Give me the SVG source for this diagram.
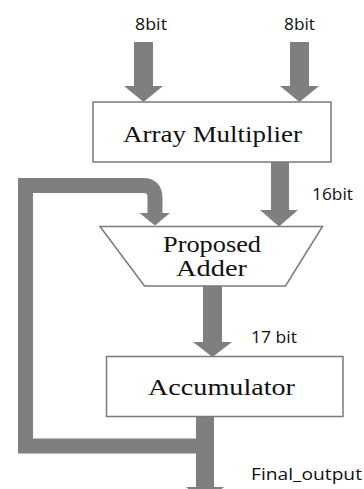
<svg xmlns="http://www.w3.org/2000/svg" width="364" height="489" viewBox="0 0 364 489">
<style>
.box{fill:#ffffff;stroke:#7a7a7a;stroke-width:1.5}
.arr{fill:#7f7f7f}
.lbl{font-family:"Open Sans","DejaVu Sans",sans-serif;font-size:16px;fill:#111}
.ttl{font-family:"Liberation Serif","Times New Roman",serif;font-size:23.5px;fill:#111}
</style>
<rect width="364" height="489" fill="#ffffff"/>
<g id="connectors">
  <path id="in-a" class="arr" d="M134,42 H153 V86 H163 L143.5,102 L124,86 H134 Z"/>
  <path id="in-b" class="arr" d="M290,42 H309 V86 H319 L299.5,102 L280,86 H290 Z"/>
  <path id="mul-add" class="arr" d="M271,162 H289 V210 H298 L279,226.5 L260,210 H271 Z"/>
  <path id="add-acc" class="arr" d="M203,286 H222 V342 H232 L212.5,357 L193,342 H203 Z"/>
  <path id="out" class="arr" d="M196,416 H214 V487 H224 L205,503 L186,487 H196 Z"/>
  <path id="feedback" d="M196,446 H25.5 V185.5 H143 Q155,185.5 155,197.5 V214" fill="none" stroke="#7f7f7f" stroke-width="15"/>
  <path id="feedback-head" class="arr" d="M139.5,213 H170 L155,225.5 Z"/>
</g>
<g id="labels">
  <text class="lbl" x="135" y="29.5" textLength="32" lengthAdjust="spacingAndGlyphs">8bit</text>
  <text class="lbl" x="284" y="29.5" textLength="31" lengthAdjust="spacingAndGlyphs">8bit</text>
  <text class="lbl" x="312" y="199.5" textLength="41" lengthAdjust="spacingAndGlyphs">16bit</text>
  <text class="lbl" x="251" y="343" textLength="46" lengthAdjust="spacingAndGlyphs">17 bit</text>
  <text class="lbl" x="251" y="480" textLength="111" lengthAdjust="spacingAndGlyphs">Final_output</text>
</g>
<g id="array-multiplier">
  <rect class="box" x="93" y="102" width="238" height="60"/>
  <text class="ttl" x="123" y="141.5" textLength="179" lengthAdjust="spacingAndGlyphs">Array Multiplier</text>
</g>
<g id="proposed-adder">
  <path class="box" d="M100,226.5 H322.5 L285.5,286 H144.5 Z"/>
  <text class="ttl" x="163" y="252" textLength="98" lengthAdjust="spacingAndGlyphs">Proposed</text>
  <text class="ttl" x="176" y="275.5" textLength="71" lengthAdjust="spacingAndGlyphs">Adder</text>
</g>
<g id="accumulator">
  <rect class="box" x="106.5" y="356.5" width="236.5" height="60"/>
  <text class="ttl" x="148" y="395" textLength="147" lengthAdjust="spacingAndGlyphs">Accumulator</text>
</g>
</svg>
